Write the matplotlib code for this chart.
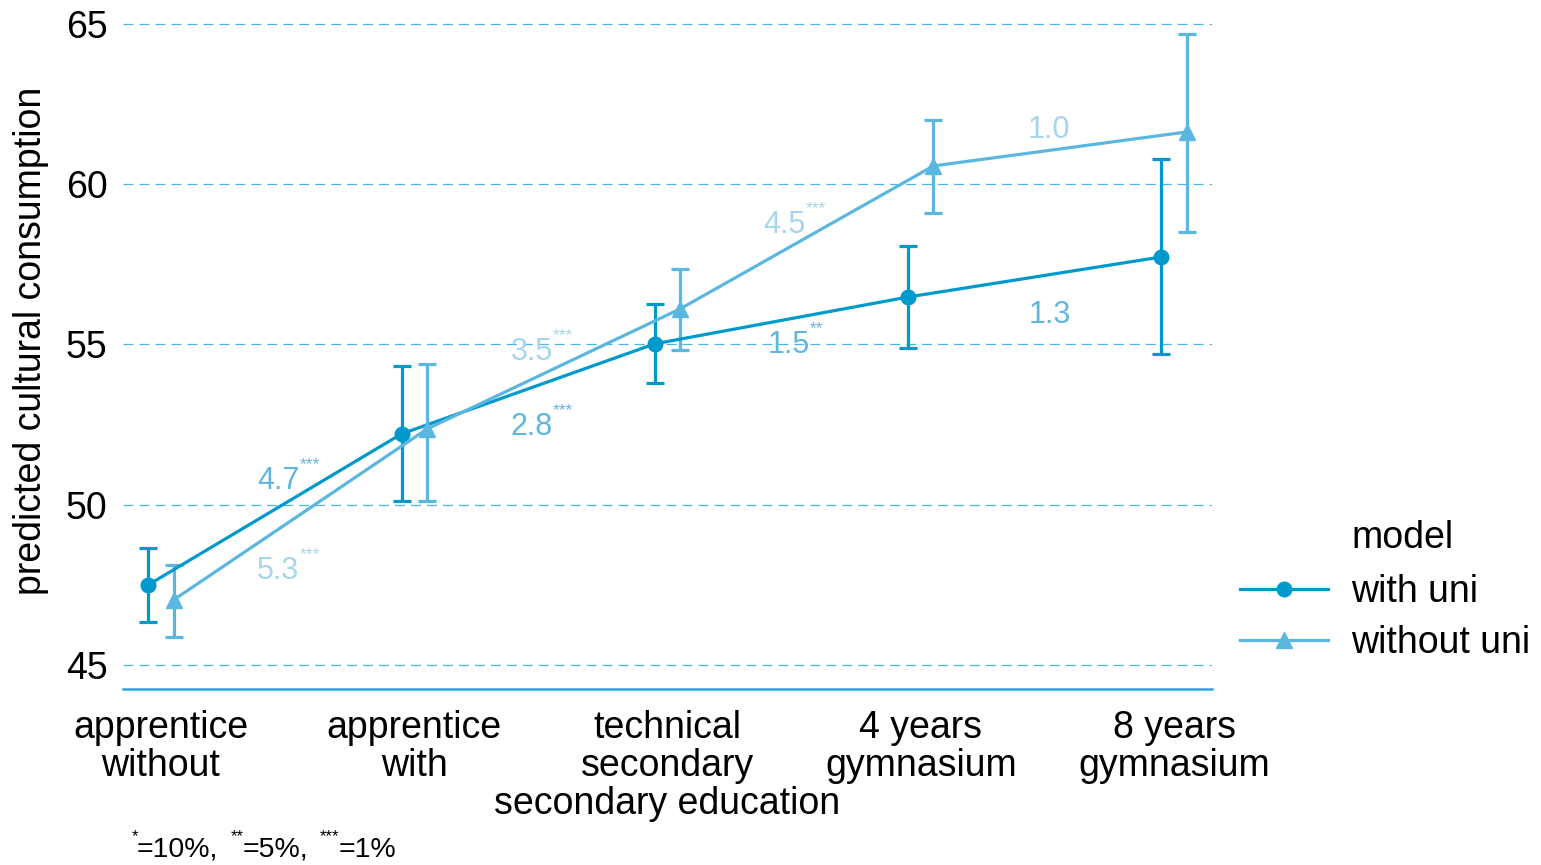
import matplotlib
matplotlib.use("Agg")
import matplotlib.pyplot as plt
import numpy as np

plt.rcParams['font.family'] = ['Liberation Sans', 'DejaVu Sans']
plt.rcParams['lines.scale_dashes'] = False

# ---------------- data ----------------
categories = ["apprentice\nwithout", "apprentice\nwith", "technical\nsecondary",
              "4 years\ngymnasium", "8 years\ngymnasium"]
series_names = ["with uni", "without uni"]

with_uni = [47.50, 52.21, 55.02, 56.48, 57.73]
with_lo = [46.34, 50.12, 53.80, 54.89, 54.70]
with_hi = [48.65, 54.33, 56.26, 58.07, 60.79]

without_uni = [47.03, 52.36, 56.11, 60.57, 61.63]
without_lo = [45.87, 50.12, 54.83, 59.10, 58.51]
without_hi = [48.12, 54.39, 57.36, 62.00, 64.69]

with_labels = ["4.7", "2.8", "1.5", "1.3"]
with_stars = ["***", "***", "**", ""]
with_label_y = [50.80, 52.49, 55.05, 55.97]

without_labels = ["5.3", "3.5", "4.5", "1.0"]
without_stars = ["***", "***", "***", ""]
without_label_y = [47.99, 54.83, 58.79, 61.77]

y_ticks = [45, 50, 55, 60, 65]
y_label = "predicted cultural consumption"
x_label = "secondary education"
legend_title = "model"

# ---------------- styling ----------------
c_with = "#0099cc"
c_without = "#5bb7e0"
c_lab_with = "#5fb7e0"
c_lab_without = "#a6d6ec"
grid_c = "#4bb6e0"
axis_c = "#2ea8dc"

W, H = 1541, 865
fig = plt.figure(figsize=(W / 100, H / 100), dpi=100)
ax = fig.add_axes([123 / W, 1 - 689 / H, (1212 - 123) / W, (689 - 14) / H])

x = np.arange(len(categories))
dodge = 0.05
lw = 2.3

for vals, lo, hi, col, mk, ms, off, name in [
        (with_uni, with_lo, with_hi, c_with, "o", 10.5, -dodge, series_names[0]),
        (without_uni, without_lo, without_hi, c_without, "^", 11.5, dodge, series_names[1])]:
    v = np.array(vals)
    yerr = np.vstack([v - np.array(lo), np.array(hi) - v])
    ax.errorbar(x + off, v, yerr=yerr, fmt="none", ecolor=col, elinewidth=lw,
                capsize=6.8, capthick=lw, zorder=3)
    ax.plot(x + off, v, color=col, lw=lw, marker=mk, ms=ms, zorder=4, label=name)

# difference labels
def put_labels(labels, stars, ys, col):
    for i, (lab, st, yy) in enumerate(zip(labels, stars, ys)):
        xm = i + 0.5
        shift = -len(st) * 2.7 + 1.4  # points
        ax.annotate(lab, (xm, yy), xytext=(shift, -1.5), textcoords="offset points",
                    ha="center", va="center", fontsize=22, color=col, zorder=5)
        if st:
            ax.annotate(st, (xm, yy), xytext=(shift + 15.3, 7), textcoords="offset points",
                        ha="left", va="baseline", fontsize=12.5, color=col, zorder=5)

put_labels(with_labels, with_stars, with_label_y, c_lab_with)
put_labels(without_labels, without_stars, without_label_y, c_lab_without)

# axes styling
ax.set_xlim(-0.15, len(categories) - 1 + 0.15)
ax.set_ylim(44.25, 65.31)
ax.set_yticks(y_ticks)
ax.set_xticks(x)
ax.set_xticklabels(categories, linespacing=1.09)
ax.tick_params(axis="both", length=0, labelsize=27, colors="black")
ax.tick_params(axis="y", pad=11)
ax.tick_params(axis="x", pad=15)
for s in ["top", "right", "left"]:
    ax.spines[s].set_visible(False)
ax.spines["bottom"].set_color(axis_c)
ax.spines["bottom"].set_linewidth(1.8)
for yt in y_ticks:
    ax.axhline(yt, color=grid_c, lw=0.9, ls=(0, (7.2, 4.3)), zorder=1)

ax.set_ylabel(y_label, fontsize=27)
ax.yaxis.set_label_coords((49 - 123) / (1212 - 123), 1 - (341 - 14) / (689 - 14))
ax.set_xlabel(x_label, fontsize=27)
ax.xaxis.set_label_coords(0.5, -(786 - 689) / (689 - 14))

# legend
leg = ax.legend(loc="center left", bbox_to_anchor=(1240 / W, 1 - 617.5 / H),
                bbox_transform=fig.transFigure, frameon=False, fontsize=27,
                handlelength=2.35, handletextpad=0.6, labelspacing=0.42,
                borderpad=0, borderaxespad=0)
fig.text(1351 / W, 1 - 538 / H, legend_title, fontsize=27, ha="left", va="center")

# footnote
fn_parts = [("*", 132, 12), ("=10%,", 137, 20.5), ("**", 231, 12), ("=5%,", 243, 20.5),
            ("***", 320, 12), ("=1%", 339, 20.5)]
for txt, px, fs in fn_parts:
    if fs < 15:
        fig.text(px / W, 1 - 841 / H, txt, fontsize=fs, ha="left", va="baseline")
    else:
        fig.text(px / W, 1 - 857 / H, txt, fontsize=fs, ha="left", va="baseline")

fig.savefig("out.png", dpi=100)
